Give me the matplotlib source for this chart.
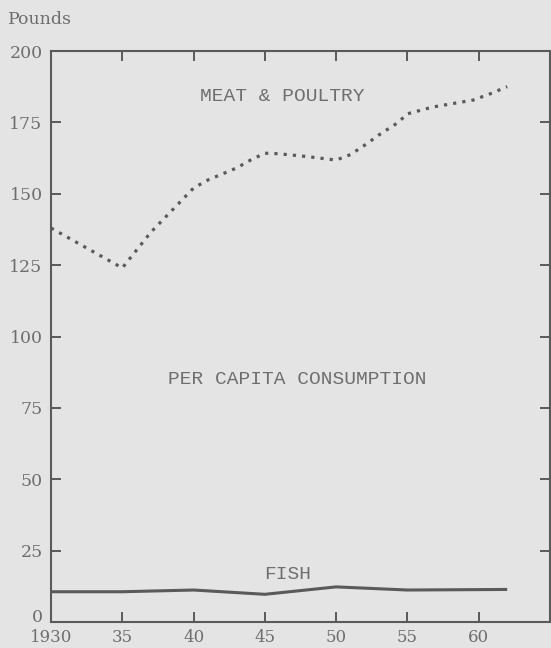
import matplotlib.pyplot as plt
import matplotlib.transforms as mtransforms

# per capita consumption, pounds
meat_years = [1930, 1935, 1937, 1940, 1941, 1943, 1944, 1945, 1946, 1948, 1950, 1951, 1952, 1953, 1954.3, 1955, 1956.8, 1959.6, 1960.8, 1962]
meat_lbs = [138, 124, 136.5, 152, 154.8, 159, 161.8, 164.2, 164, 163, 161.8, 163.7, 167, 170.6, 174.8, 178, 180.4, 182.8, 185, 187.5]

fish_years = [1930, 1935, 1940, 1945, 1950, 1955, 1962]
fish_lbs = [10.6, 10.6, 11.2, 9.7, 12.3, 11.2, 11.4]

x_ticks = [1930, 1935, 1940, 1945, 1950, 1955, 1960]
x_labels = ['1930', '35', '40', '45', '50', '55', '60']
y_ticks = [0, 25, 50, 75, 100, 125, 150, 175, 200]

bg = '#e4e4e4'
ink = '#5a5a5a'
txt = '#6e6e6e'

fig = plt.figure(figsize=(5.51, 6.48), dpi=100, facecolor=bg)
ax = fig.add_axes([51/551, 26/648, 499/551, 571/648], facecolor=bg)

ax.plot(meat_years, meat_lbs, color=ink, lw=2.3, linestyle=(0, (1, 1.9)),
        dash_capstyle='butt')
ax.plot(fish_years, fish_lbs, color=ink, lw=2.2, solid_capstyle='butt')

ax.set_xlim(1930, 1965)
ax.set_ylim(0, 200)
ax.set_xticks(x_ticks)
ax.set_xticklabels(x_labels)
ax.set_yticks(y_ticks)

for s in ax.spines.values():
    s.set_color(ink)
    s.set_linewidth(1.5)

ax.tick_params(axis='both', direction='in', length=7.5, width=1.4, color=ink,
               labelcolor=txt, labelsize=12.5)
ax.tick_params(axis='x', top=True, pad=5, labelsize=12)
ax.tick_params(axis='y', right=True, pad=6)
for lab in ax.get_xticklabels() + ax.get_yticklabels():
    lab.set_family('DejaVu Serif')

# the "0" sits a little above the axis in the original
zero = ax.get_yticklabels()[0]
zero.set_transform(zero.get_transform() +
                   mtransforms.ScaledTranslation(0, 5/72, fig.dpi_scale_trans))

mono = dict(family='Liberation Mono', fontsize=14, color=txt, ha='center', va='center')
ax.text(1946.2, 184.0, 'MEAT & POULTRY', **mono)
ax.text(1947.3, 84.8, 'PER CAPITA CONSUMPTION', **mono)
ax.text(1946.6, 16.5, 'FISH', **mono)

fig.text(8/551, 1 - 20/648, 'Pounds', family='DejaVu Serif', fontsize=12.5,
         color=txt, ha='left', va='center')

fig.savefig('out.png', dpi=100, facecolor=bg)
